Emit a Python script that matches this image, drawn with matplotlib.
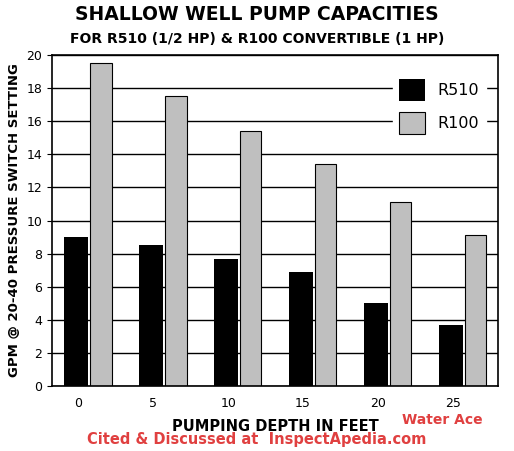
import matplotlib
matplotlib.use("Agg")
import matplotlib.pyplot as plt
import numpy as np

depths = ["0", "5", "10", "15", "20", "25"]
r510 = [9.0, 8.5, 7.7, 6.9, 5.0, 3.7]
r100 = [19.5, 17.5, 15.4, 13.4, 11.1, 9.1]

fig = plt.figure(figsize=(5.14, 4.51), dpi=100)
ax = fig.add_axes([0.101, 0.144, 0.868, 0.734])
x = np.arange(len(depths))
ax.set_axisbelow(True)
ax.yaxis.grid(True, color="black", linewidth=1)
ax.bar(x - 0.03, r510, width=0.32, color="black", label="R510")
ax.bar(x + 0.30, r100, width=0.29, color="#bfbfbf", edgecolor="black", linewidth=0.8, label="R100")
ax.set_xlim(-0.35, 5.6)
ax.set_ylim(0, 20)
ax.set_yticks(range(0, 21, 2))
ax.set_xticks(x)
ax.set_xticklabels(depths)
ax.tick_params(axis="x", length=0, pad=8)
ax.tick_params(labelsize=9)
for s in ax.spines.values():
    s.set_linewidth(1.2)
ax.set_ylabel("GPM @ 20-40 PRESSURE SWITCH SETTING", fontsize=9.5, fontweight="bold")
ax.set_xlabel("PUMPING DEPTH IN FEET", fontsize=10.5, fontweight="bold", labelpad=6)
leg = ax.legend(loc="upper right", bbox_to_anchor=(0.99, 0.97), fontsize=11.5, frameon=True,
                fancybox=False, edgecolor="white", framealpha=1, handlelength=1.6, handleheight=1.7, labelspacing=0.7)
fig.text(0.5, 0.955, "SHALLOW WELL PUMP CAPACITIES", ha="center", fontsize=13.5, fontweight="bold")
fig.text(0.5, 0.905, "FOR R510 (1/2 HP) & R100 CONVERTIBLE (1 HP)", ha="center", fontsize=10, fontweight="bold")
fig.text(0.86, 0.06, "Water Ace", color="#e04040", fontsize=10, fontweight="bold", ha="center")
fig.text(0.5, 0.015, "Cited & Discussed at  InspectApedia.com", color="#e04040", fontsize=10.5, fontweight="bold", ha="center")
fig.savefig("out.png", dpi=100)
